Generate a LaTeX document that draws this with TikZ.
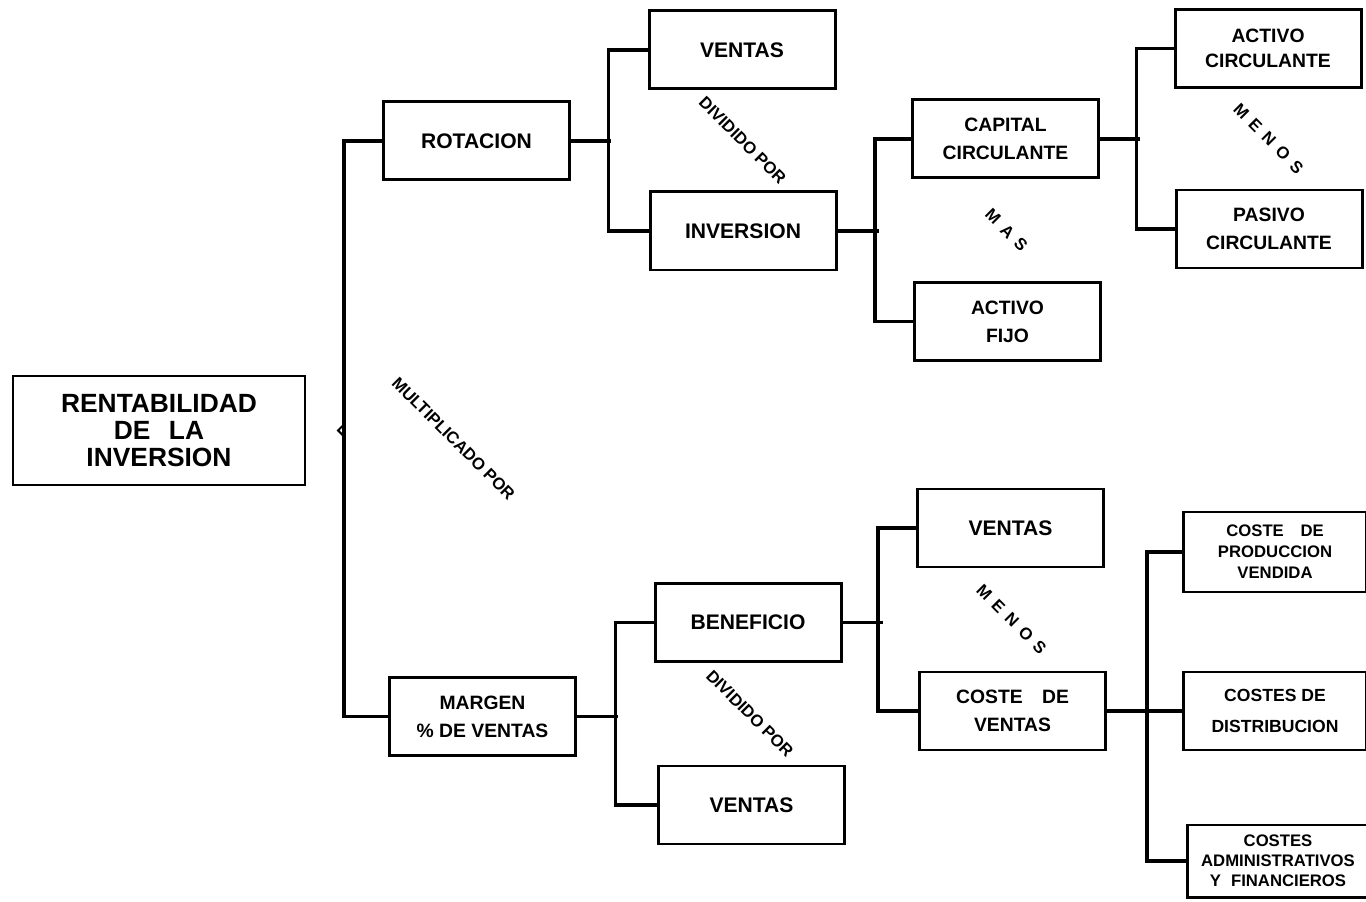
\documentclass[tikz,border=0pt]{standalone}
\usepackage{fontspec}
\setmainfont{Liberation Sans}
\usetikzlibrary{calc}

\tikzset{
  caja/.style={rectangle, draw, line width=1.7pt, minimum width=3.72cm, minimum height=1.56cm, align=center, font=\bfseries\fontsize{12}{17}\selectfont},
  cajados/.style={caja, font=\bfseries\fontsize{11}{16}\selectfont},
  cajatres/.style={caja, minimum width=3.66cm, minimum height=1.6cm, font=\bfseries\fontsize{9.5}{12}\selectfont},
  etiqueta/.style={rotate=-45, font=\bfseries\fontsize{9.5}{10}\selectfont},
  conector/.style={line width=2.2pt}
}

\begin{document}
\begin{tikzpicture}[node distance=5.25cm]
    \useasboundingbox (-3.18,-9.41) rectangle (24.14,8.61);

    % Root
    \node [caja, minimum width=5.84cm, minimum height=2.18cm, font=\bfseries\fontsize{15}{15.6}\selectfont] (rent) {RENTABILIDAD\\DE\hspace{0.7em}LA\\INVERSION};

    % First level
    \node [caja, right of=rent, xshift=1.1cm, yshift=5.79cm] (rotacion) {ROTACION};
    \node [cajados, right of=rent, xshift=1.22cm, yshift=-5.72cm] (margen) {MARGEN\\\% DE VENTAS};

    % Rotacion branch
    \node [caja, right of=rotacion, xshift=0.06cm, yshift=1.82cm] (ventasa) {VENTAS};
    \node [caja, right of=rotacion, xshift=0.08cm, yshift=-1.8cm] (inversion) {INVERSION};
    \node [cajados, right of=inversion, yshift=1.84cm] (capital) {CAPITAL\\CIRCULANTE};
    \node [cajados, right of=inversion, xshift=0.04cm, yshift=-1.81cm] (fijo) {ACTIVO\\FIJO};
    \node [cajados, right of=capital, yshift=1.81cm, font=\bfseries\fontsize{11}{14}\selectfont] (activoc) {ACTIVO\\CIRCULANTE};
    \node [cajados, right of=capital, xshift=0.02cm, yshift=-1.8cm] (pasivo) {PASIVO\\CIRCULANTE};

    % Margen branch
    \node [caja, right of=margen, xshift=0.06cm, yshift=1.88cm] (beneficio) {BENEFICIO};
    \node [caja, right of=margen, xshift=0.13cm, yshift=-1.77cm] (ventasb) {VENTAS};
    \node [caja, right of=beneficio, yshift=1.89cm] (ventasc) {VENTAS};
    \node [cajados, right of=beneficio, xshift=0.04cm, yshift=-1.77cm] (costev) {COSTE\quad DE\\VENTAS};
    \node [cajatres, right of=costev, yshift=3.18cm] (produccion) {COSTE\quad DE\\PRODUCCION\\VENDIDA};
    \node [cajados, right of=costev, minimum width=3.66cm, font=\bfseries\fontsize{10}{18}\selectfont] (distribucion) {COSTES DE\\DISTRIBUCION};
    \node [cajatres, right of=costev, xshift=0.06cm, yshift=-3.0cm, minimum width=3.62cm, minimum height=1.44cm, font=\bfseries\fontsize{9.5}{11.5}\selectfont] (administ) {COSTES\\ADMINISTRATIVOS\\Y\hspace{0.6em}FINANCIEROS};

    % Operations
    \node [etiqueta, font=\bfseries\fontsize{9.5}{10}\selectfont] (multi) at ($(rotacion)!0.5!(margen)+(-0.52,-0.2)$) {MULTIPLICADO POR};
    \node [etiqueta] (divuno) at ($(ventasa)!0.5!(inversion)$) {DIVIDIDO POR};
    \node [etiqueta] (mas) at ($(capital)!0.5!(fijo)$) {M\, A\, S};
    \node [etiqueta] (menosa) at ($(activoc)!0.5!(pasivo)$) {M\, E\, N\, O\, S};
    \node [etiqueta] (divdos) at ($(beneficio)!0.5!(ventasb)$) {DIVIDIDO POR};
    \node [etiqueta] (menosb) at ($(ventasc)!0.5!(costev)$) {M\, E\, N\, O\, S};

    % Connectors
    \draw [conector] (rotacion.west) -- ++(-0.76,0) coordinate (llave) |- (margen.west);
    \draw [conector, line width=1.2pt] (llave |- rent.east) ++(0,0.12) -- ++(-0.12,-0.12) -- ++(0.12,-0.12);
    \draw [conector] (rotacion.east) -- ++(0.8,0);
    \draw [conector] (ventasa.west) -- ++(-0.78,0) |- (inversion.west);
    \draw [conector] (inversion.east) -- ++(0.82,0);
    \draw [conector] (capital.west) -- ++(-0.72,0) |- (fijo.west);
    \draw [conector] (capital.east) -- ++(0.8,0);
    \draw [conector] (activoc.west) -- ++(-0.74,0) |- (pasivo.west);
    \draw [conector] (margen.east) -- ++(0.82,0);
    \draw [conector] (beneficio.west) -- ++(-0.76,0) |- (ventasb.west);
    \draw [conector] (beneficio.east) -- ++(0.8,0);
    \draw [conector] (ventasc.west) -- ++(-0.76,0) |- (costev.west);
    \draw [conector] (costev.east) -- (distribucion.west);
    \draw [conector] (produccion.west) -- ++(-0.7,0) |- (administ.west);
\end{tikzpicture}
\end{document}
